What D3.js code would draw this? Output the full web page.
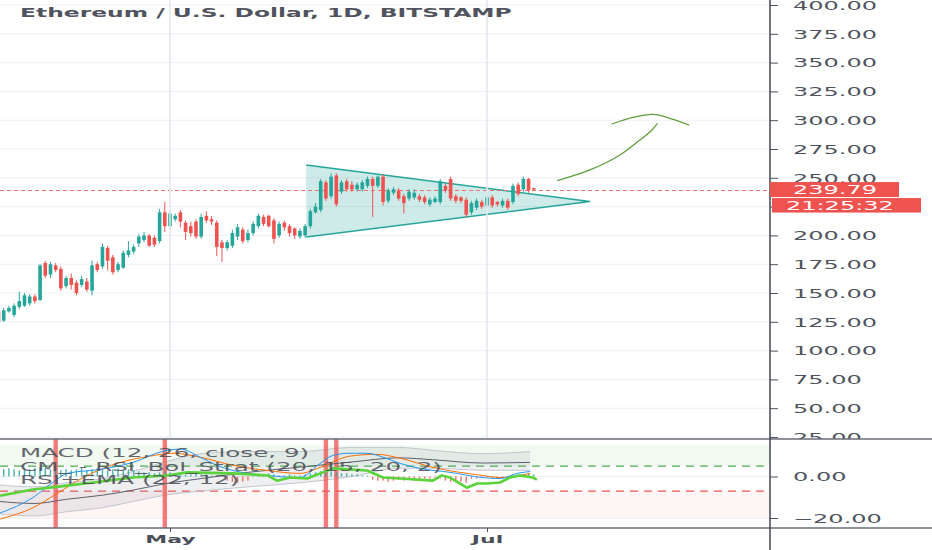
<!DOCTYPE html>
<html><head><meta charset="utf-8">
<script src="https://cdn.jsdelivr.net/npm/d3@7"></script>
<style>body{margin:0;background:#fff}svg{display:block}text{font-family:"DejaVu Sans",sans-serif}</style>
</head><body><svg id="c" width="932" height="550"></svg>
<script>
// ---------------- DATA ----------------
const title = "Ethereum / U.S. Dollar, 1D, BITSTAMP";
const startDate = "2020-03-29"; // first candle, one candle per day
const opens  = [134,126,134,131,138,139,141,147,144,176,166,174,171,156,163,159,157,160,152,175,173,189,181,170,172,183,186,193,196,200,198,195,220,208,214,220,211,208,212,199,217,214,211,194,189,191,199,205,196,202,208,216,217,213,200,211,208,206,199,200,208,220,222,246,234,252,238,247,244,240,240,243,249,243,251,230,237,239,234,232,233,234,233,227,229,229,243,249,234,233,231,220,224,229,226,233,229,226,230,229,244,240,249,241];
const highs  = [136,137,139,141,151,150,149,149,175,178,177,176,173,165,167,161,165,163,178,177,193,191,183,177,187,195,192,201,203,201,200,223,229,222,219,222,213,212,214,219,221,217,213,196,196,205,210,207,205,212,219,218,218,215,212,213,210,207,206,210,223,228,249,248,254,254,248,249,247,246,248,251,251,252,253,241,242,241,236,240,240,236,235,233,234,249,245,251,236,234,233,230,232,231,235,235,230,232,232,245,246,251,250,241.5];
const lows   = [124,125,133,129,136,138,139,141,143,163,163,168,152,154,153,148,155,151,148,168,171,170,166,168,171,181,184,190,194,190,190,193,203,205,212,207,196,199,197,197,211,209,182,177,187,189,196,193,194,200,206,208,207,193,198,204,199,197,197,198,206,219,220,230,232,225,236,238,238,238,238,241,216,241,226,228,235,230,219,230,231,229,227,225,228,227,237,230,228,228,216,218,222,223,224,224,225,224,222,227,234,238,237,239];
const closes = [125,135,137,139,143,148,147,143,174,165,175,170,154,163,157,150,162,153,174,170,190,178,168,175,185,187,190,199,200,191,192,220,208,219,217,212,203,202,199,216,213,212,190,189,194,202,207,195,202,210,217,210,208,197,210,207,202,200,204,208,221,225,247,232,251,227,246,240,240,244,246,249,243,251,229,239,240,232,228,238,237,231,229,231,232,247,239,232,230,230,218,228,230,225,233,226,227,230,224,243,236,249,239,239.79];
const lastPrice = 239.79;
const countdown = "21:25:32";
const priceTicks = [25,50,75,100,125,150,175,200,225,250,275,300,325,350,375,400];
const paneTicks = [0,-20];
const timeTicks = ["2020-05-01","2020-07-01"];

// drawings: [day offset from startDate, price]
const triangle = [[59.2,261.1],[113.8,229.4],[59.2,198.6]];
const arrowUp = [[107.5,247.5],[113.8,256.8],[119.6,269.8],[123.4,282.8],[125.4,290],[126.8,297.3]];
const arrowTop = [[118,296.7],[122.1,302.5],[126,305.1],[128.6,302.5],[132.9,295.8]];

// indicator pane: [day offset, value]
const macdLine = [[0.3,-17.6],[6.6,-10.2],[10.9,-2],[13.2,1.5],[19.5,3.4],[25.9,6.8],[31.7,12.2],[35,13.2],[38.8,9.3],[42,5.4],[45.1,2.9],[51.7,0.5],[58,-0.5],[61.9,6.3],[64.4,10.2],[67.6,11.2],[70.9,11.2],[74,9.3],[77.3,6.3],[81.1,3.9],[86.9,2],[93.2,-0.5],[96.5,-1],[99.8,1.5],[102.3,2.4]];
const signalLine = [[0.3,-20.5],[6.6,-15.1],[11.2,-8.3],[16.3,-0.5],[22.8,6.3],[29.1,9.8],[33.6,11.2],[38.8,9.3],[45.1,5.4],[51.7,2.9],[58,1.5],[61.9,4.4],[67.6,9.8],[72.8,10.7],[77.3,8.8],[83.6,4.4],[93.2,0.5],[96.5,-0.5],[102.3,1.5]];
const bandBasis = [[0,-12],[7,-13],[13,-11],[20,-9],[26,-6.5],[32,-3.5],[39,-1],[48,2],[58,4.5],[68,7],[77,9],[84,8],[93,6.5],[102.3,6.8]];
const bandUpper = [[0,-4],[7,-5],[13,-3],[20,-1],[26,2.5],[32,7],[39,11],[48,12],[58,12],[68,14],[77,14],[84,12.5],[93,11],[102.3,12]];
const bandLower = [[0,-18],[7,-19],[13,-17],[20,-15],[26,-12],[32,-9],[39,-7],[48,-5],[58,-3],[68,0],[77,4],[84,4],[93,3],[102.3,3]];
const rsiLine = [[0.3,-9.3],[6.6,-6.3],[13.2,-4.4],[18.2,-2.9],[25.9,-0.5],[32.4,0.5],[36.3,2],[45.1,1.5],[51.7,0.5],[53.6,-2],[56.1,-0.5],[59.4,-1],[61.9,1.5],[64.4,3.9],[70.9,2.9],[74,-0.5],[77.3,-1],[83.6,-2],[85.3,0.5],[86.9,-0.5],[90.1,-5.4],[92.1,-3.4],[94,-3.4],[96.5,-2.9],[98.4,-0.5],[100.3,0.5],[102.8,-0.5],[103.6,-1.5]];
const histValues = [3,3.5,4,3.5,3,4,3.5,4,4.5,4,3.5,4,3,3.5,3,3.5,4,3,3.5,4,3.5,3,3.5,4,3,3.5,3,2.5,
  2,2,1.5,2,2.5,2,1.5,1.5,1,1,1.5,1,1,0.5,0.5,0.5,
  -2,-2.5,-3,-2.5,-2,
  0.5,1,1,1.5,1,0.5,0.5,1,0.5,0.5,1,1.5,2,2.5,2,2.5,2,1.5,1.5,1,1,0.5,0.5,
  -1.5,-2,-2,-2.5,-2,-1.5,-2,-1.5,-2,-1.5,-1,
  -1,-0.5,-1,
  -2,-2.5,-2,-2.5,-3,
  -1,-1,-0.5,-0.5,-1,-0.5,-0.5,-0.5,
  0.5,1,1,1.5,1];
const signalDays = [11,32,63,65];
const upperLevel = 5, lowerLevel = -7, zoneTop = 15, zoneBottom = -20.5;
const legend = ["MACD (12, 26, close, 9)", "CM_ - RSI_Bol_Strat (20, 15, 20, 2)", "RSI+EMA (22, 12)"];

// ---------------- CHART ----------------
const svg = d3.select("#c");
const W = 932, H = 550;
const axisX = 770, paneTop = 439, paneBot = 528;
const UP = "#26a69a", DOWN = "#ef5350";
const parse = d3.utcParse("%Y-%m-%d");
const t0 = parse(startDate);
const dayAt = k => new Date(t0.getTime() + k * 864e5);
const x = d3.scaleUtc().domain([parse("2020-05-01"), parse("2020-07-01")]).range([170, 487]);
const y = d3.scaleLinear().domain([25, 400]).range([437, 5]);
const yi = d3.scaleLinear().domain([-20, 0]).range([518, 476.5]);
const SX = 2; // horizontal stretch of the text in the picture

const candles = opens.map((o, i) => ({d: dayAt(i), o, h: highs[i], l: lows[i], c: closes[i]}));

const defs = svg.append("defs");
defs.append("clipPath").attr("id", "mainClip").append("rect").attr("x", 0).attr("y", 0).attr("width", axisX).attr("height", paneTop);
defs.append("clipPath").attr("id", "paneClip").append("rect").attr("x", 0).attr("y", paneTop).attr("width", axisX).attr("height", paneBot - paneTop);

const main = svg.append("g").attr("clip-path", "url(#mainClip)");
// horizontal grid
main.selectAll(".hg").data(priceTicks).join("line")
  .attr("x1", 0).attr("x2", axisX).attr("y1", d => y(d)).attr("y2", d => y(d))
  .attr("stroke", "#eef0f5").attr("stroke-width", 1);
// vertical grid
svg.append("g").selectAll("line").data(timeTicks).join("line")
  .attr("x1", d => x(parse(d))).attr("x2", d => x(parse(d))).attr("y1", 0).attr("y2", paneBot)
  .attr("stroke", "#e4e7ee").attr("stroke-width", 1.6);

// triangle
const pt = p => [x(dayAt(p[0])), y(p[1])];
main.append("path").attr("d", "M" + triangle.map(pt).join("L") + "Z")
  .attr("fill", "rgba(38,166,154,0.22)").attr("stroke", "none");
main.append("path").attr("d", "M" + [triangle[0], triangle[1], triangle[2]].map(pt).join("L"))
  .attr("fill", "none").attr("stroke", UP).attr("stroke-width", 1.5);

// last price dashed line
const lyLine = Math.round(y(lastPrice)) + 0.5;
main.append("line").attr("x1", 0).attr("x2", axisX).attr("y1", lyLine).attr("y2", lyLine)
  .attr("stroke", "#f07070").attr("stroke-width", 1).attr("stroke-dasharray", "4,3");

// candles
const cw = 3.6;
const cg = main.append("g");
cg.selectAll(".w").data(candles).join("line")
  .attr("x1", d => x(d.d)).attr("x2", d => x(d.d)).attr("y1", d => y(d.h)).attr("y2", d => y(d.l))
  .attr("stroke", d => d.c >= d.o ? UP : DOWN).attr("stroke-width", 1);
cg.selectAll(".b").data(candles).join("rect")
  .attr("x", d => x(d.d) - cw / 2).attr("width", cw)
  .attr("y", d => y(Math.max(d.o, d.c))).attr("height", d => Math.max(1, Math.abs(y(d.o) - y(d.c))))
  .attr("fill", d => d.c >= d.o ? UP : DOWN);

// arrow drawing
const dl = d3.line().x(p => x(dayAt(p[0]))).y(p => y(p[1])).curve(d3.curveCatmullRom);
[arrowUp, arrowTop].forEach(a => main.append("path").attr("d", dl(a))
  .attr("fill", "none").attr("stroke", "#5f9f3c").attr("stroke-width", 1.3));

// helper for stretched text
function stext(g, tx, ty, str, size, opts = {}) {
  return g.append("text").attr("transform", `translate(${tx},${ty}) scale(${SX},1)`)
    .attr("font-size", size).attr("font-weight", opts.weight || "normal")
    .attr("fill", opts.fill || "#4a4e59").attr("text-anchor", opts.anchor || "start")
    .attr("opacity", opts.opacity || 1).text(str);
}
stext(svg, 20, 16.7, title, 11.7, {weight: "bold", fill: "#50535e"});

// ---------------- PRICE AXIS ----------------
const ax = svg.append("g").attr("transform", `translate(${axisX},0)`)
  .call(d3.axisRight(y).tickValues(priceTicks).tickSize(8).tickFormat(d3.format(".2f")));
ax.select(".domain").remove();
ax.selectAll(".tick line").attr("stroke", "#50535e").attr("stroke-width", 1);
ax.selectAll(".tick text").attr("x", 0).attr("dy", "0.36em")
  .attr("transform", `translate(23,0) scale(${SX},1)`)
  .attr("font-size", 12).attr("font-family", "DejaVu Sans").attr("fill", "#4f535e");

// ---------------- INDICATOR PANE ----------------
svg.append("rect").attr("x", 0).attr("y", paneTop).attr("width", W).attr("height", paneBot - paneTop).attr("fill", "#fff");
const pane = svg.append("g").attr("clip-path", "url(#paneClip)");
pane.append("rect").attr("x", 0).attr("width", axisX).attr("y", yi(zoneTop)).attr("height", yi(upperLevel) - yi(zoneTop))
  .attr("fill", "rgba(76,175,80,0.08)");
pane.append("rect").attr("x", 0).attr("width", axisX).attr("y", yi(lowerLevel)).attr("height", yi(zoneBottom) - yi(lowerLevel))
  .attr("fill", "rgba(239,83,80,0.06)");
pane.selectAll(".pg").data(paneTicks).join("line")
  .attr("x1", 0).attr("x2", axisX).attr("y1", d => yi(d)).attr("y2", d => yi(d))
  .attr("stroke", "#eceef3");
pane.append("line").attr("x1", 0).attr("x2", axisX).attr("y1", yi(upperLevel)).attr("y2", yi(upperLevel))
  .attr("stroke", "#4caf50").attr("stroke-dasharray", "8,6").attr("stroke-width", 1.2);
pane.append("line").attr("x1", 0).attr("x2", axisX).attr("y1", yi(lowerLevel)).attr("y2", yi(lowerLevel))
  .attr("stroke", "#ef5350").attr("stroke-dasharray", "8,6").attr("stroke-width", 1.2);

// bollinger band
const bandArea = d3.area().x(p => x(dayAt(p[0]))).y0((p, i) => yi(bandLower[i][1])).y1(p => yi(p[1])).curve(d3.curveMonotoneX);
pane.append("path").attr("d", bandArea(bandUpper)).attr("fill", "rgba(150,155,170,0.16)");
const pl = d3.line().x(p => x(dayAt(p[0]))).y(p => yi(p[1])).curve(d3.curveMonotoneX);
pane.append("path").attr("d", pl(bandUpper)).attr("fill", "none").attr("stroke", "#c3c6ce").attr("stroke-width", 1);
pane.append("path").attr("d", pl(bandLower)).attr("fill", "none").attr("stroke", "#c3c6ce").attr("stroke-width", 1);

// signal highlight bars
pane.selectAll(".sig").data(signalDays).join("rect")
  .attr("x", d => x(dayAt(d)) - 2.2).attr("width", 4.4).attr("y", paneTop).attr("height", paneBot - paneTop)
  .attr("fill", "#f05a5a").attr("opacity", 0.8);

// histogram
pane.selectAll(".hb").data(histValues).join("rect")
  .attr("x", (v, i) => x(dayAt(i)) - 0.7).attr("width", 1.4)
  .attr("y", v => yi(Math.max(0, v))).attr("height", v => Math.abs(yi(v) - yi(0)))
  .attr("fill", v => v >= 0 ? UP : DOWN).attr("opacity", 0.85);

pane.append("path").attr("d", pl(bandBasis)).attr("fill", "none").attr("stroke", "#5d606b").attr("stroke-width", 1);
pane.append("path").attr("d", pl(signalLine)).attr("fill", "none").attr("stroke", "#ff6d00").attr("stroke-width", 1);
pane.append("path").attr("d", pl(macdLine)).attr("fill", "none").attr("stroke", "#2196f3").attr("stroke-width", 1);
pane.append("path").attr("d", d3.line().x(p => x(dayAt(p[0]))).y(p => yi(p[1]))(rsiLine))
  .attr("fill", "none").attr("stroke", "#5ad33a").attr("stroke-width", 2.6).attr("stroke-linejoin", "round");

[457.3, 470.7, 484].forEach((by, k) => stext(svg, 20, by, legend[k], 12.3, {fill: "#4a4d57", opacity: 0.85}));

// pane axis
const pax = svg.append("g").attr("transform", `translate(${axisX},0)`)
  .call(d3.axisRight(yi).tickValues(paneTicks).tickSize(8).tickFormat(d3.format(".2f")));
pax.select(".domain").remove();
pax.selectAll(".tick line").attr("stroke", "#50535e");
pax.selectAll(".tick text").attr("x", 0).attr("dy", "0.36em")
  .attr("transform", `translate(23,0) scale(${SX},1)`)
  .attr("font-size", 12).attr("font-family", "DejaVu Sans").attr("fill", "#4f535e");

// pane borders & price axis line
[paneTop, paneBot].forEach(py => svg.append("line").attr("x1", 0).attr("x2", W).attr("y1", py).attr("y2", py)
  .attr("stroke", "#6a6d78").attr("stroke-width", 1.3));
svg.append("line").attr("x1", axisX).attr("x2", axisX).attr("y1", 0).attr("y2", H)
  .attr("stroke", "#434651").attr("stroke-width", 1.5);

// last price + countdown labels
const ly = y(lastPrice);
svg.append("rect").attr("x", axisX).attr("y", ly - 7.5).attr("width", 129).attr("height", 15).attr("fill", DOWN);
stext(svg, 793, ly + 4.4, d3.format(".2f")(lastPrice), 12, {fill: "#fff"});
svg.append("rect").attr("x", axisX + 2).attr("y", ly + 8.5).attr("width", 149).attr("height", 14.5).attr("fill", DOWN);
stext(svg, 786, ly + 20.2, countdown, 12, {fill: "#fff"});

// time axis
const tax = svg.append("g").attr("transform", `translate(0,${paneBot})`)
  .call(d3.axisBottom(x).tickValues(timeTicks.map(parse)).tickSize(4).tickFormat(d3.utcFormat("%b")));
tax.select(".domain").remove();
tax.selectAll(".tick line").attr("stroke", "#50535e");
tax.selectAll(".tick text").attr("y", 0).attr("dy", 0)
  .attr("transform", `translate(0,15) scale(${SX},1)`)
  .attr("font-size", 11).attr("font-weight", "bold").attr("font-family", "DejaVu Sans").attr("fill", "#4a4e59");
</script></body></html>
